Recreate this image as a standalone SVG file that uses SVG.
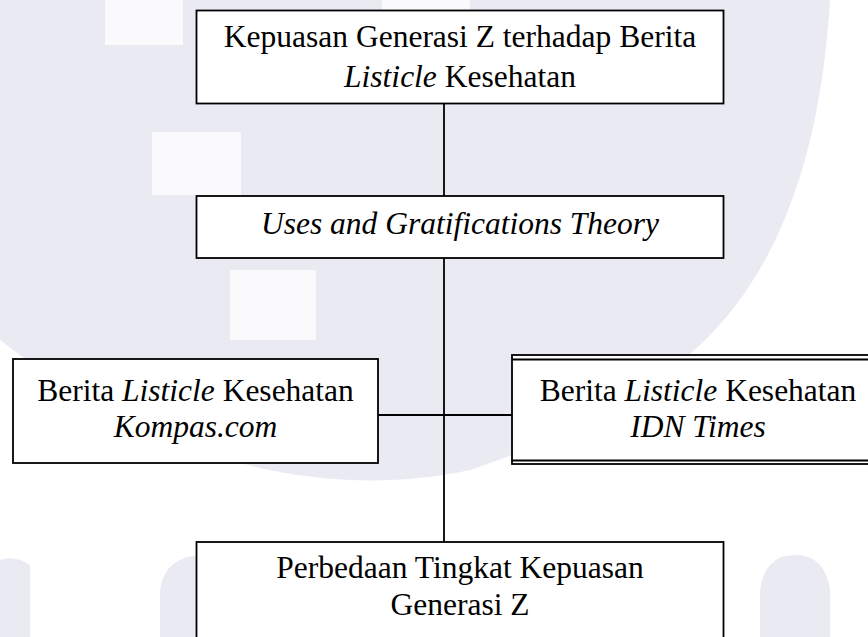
<svg xmlns="http://www.w3.org/2000/svg" width="868" height="637" viewBox="0 0 868 637">
<style>
.box{fill:#ffffff;stroke:#000000;stroke-width:1.8}
.ln{stroke:#000000;stroke-width:1.8;fill:none}
.wm{fill:#eaeaf3}
.wh{fill:#fafafc}
text{font-family:"Liberation Serif","Times New Roman",serif;font-size:31.5px;fill:#000000;text-anchor:middle}
.it{font-style:italic}
</style>
<g id="watermark">
<path class="wm" d="M0,0 H830 C822,130 790,260 700,345 C640,400 560,440 470,470 C380,490 280,480 200,450 C120,420 50,380 0,340 Z"/>
<rect class="wh" x="105" y="0" width="78" height="45"/>
<rect class="wh" x="152" y="132" width="89" height="63"/>
<rect class="wh" x="230" y="270" width="86" height="70"/>
<rect class="wh" x="382" y="0" width="88" height="10"/>
<path class="wm" d="M0,560 Q15,555 30,565 V637 H0 Z"/>
<path class="wm" d="M160,637 V590 Q165,555 205,555 Q245,555 250,590 V637 Z"/>
<path class="wm" d="M760,637 V590 Q765,555 795,555 Q825,555 830,590 V637 Z"/>
</g>
<g id="connectors">
<line class="ln" x1="444" y1="103" x2="444" y2="196"/>
<line class="ln" x1="444" y1="258" x2="444" y2="542"/>
<line class="ln" x1="378" y1="415" x2="512" y2="415"/>
</g>
<g id="node-kepuasan">
<rect class="box" x="196.5" y="10.5" width="527" height="93"/>
<text x="460" y="47">Kepuasan Generasi Z terhadap Berita</text>
<text x="460" y="87"><tspan class="it">Listicle</tspan> Kesehatan</text>
</g>
<g id="node-ugt">
<rect class="box" x="196.5" y="196" width="527" height="62"/>
<text x="460" y="234" class="it">Uses and Gratifications Theory</text>
</g>
<g id="node-kompas">
<rect class="box" x="13" y="359" width="365" height="104"/>
<text x="195.5" y="401">Berita <tspan class="it">Listicle</tspan> Kesehatan</text>
<text x="195.5" y="437" class="it">Kompas.com</text>
</g>
<g id="node-idn">
<rect class="box" x="512" y="355" width="380" height="109"/>
<line class="ln" x1="512" y1="359.5" x2="868" y2="359.5"/>
<line class="ln" x1="512" y1="460.5" x2="868" y2="460.5"/>
<text x="698" y="401">Berita <tspan class="it">Listicle</tspan> Kesehatan</text>
<text x="698" y="437" class="it">IDN Times</text>
</g>
<g id="node-perbedaan">
<rect class="box" x="196.5" y="542" width="527" height="120"/>
<text x="460" y="578">Perbedaan Tingkat Kepuasan</text>
<text x="460" y="615">Generasi Z</text>
</g>
</svg>
